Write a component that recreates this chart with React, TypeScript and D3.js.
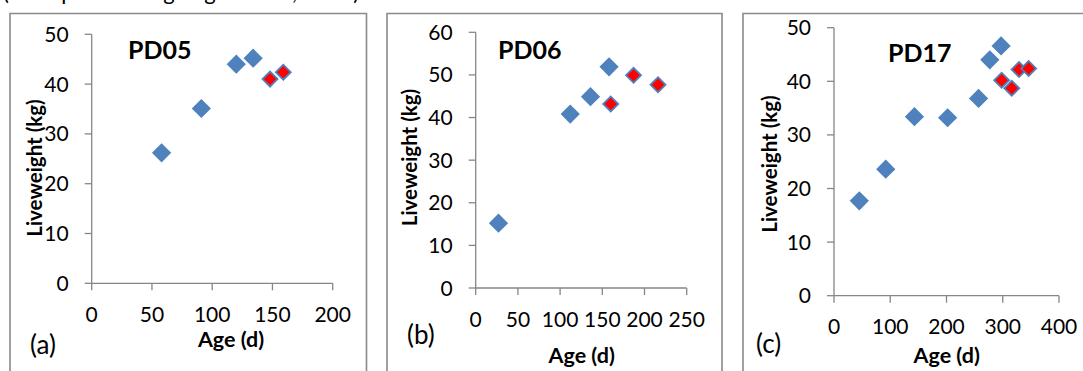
import React from "react";
import * as d3 from "d3";

// ---- data ----
const pd05AgeBlue = [58, 91, 120, 134];
const pd05WeightBlue = [26.2, 35.1, 44.0, 45.2];
const pd05AgeRed = [148, 159];
const pd05WeightRed = [41.0, 42.4];

const pd06AgeBlue = [27, 112, 136, 158];
const pd06WeightBlue = [15.2, 40.8, 44.9, 51.9];
const pd06AgeRed = [160, 187, 216];
const pd06WeightRed = [43.2, 49.9, 47.7];

const pd17AgeBlue = [45, 92, 143, 202, 257, 277, 297];
const pd17WeightBlue = [17.7, 23.6, 33.4, 33.2, 36.8, 44.0, 46.6];
const pd17AgeRed = [298, 316, 329, 346];
const pd17WeightRed = [40.2, 38.7, 42.2, 42.4];

const pd05XTicks = [0, 50, 100, 150, 200];
const pd05YTicks = [0, 10, 20, 30, 40, 50];
const pd06XTicks = [0, 50, 100, 150, 200, 250];
const pd06YTicks = [0, 10, 20, 30, 40, 50, 60];
const pd17XTicks = [0, 100, 200, 300, 400];
const pd17YTicks = [0, 10, 20, 30, 40, 50];

const panelNames = ["PD05", "PD06", "PD17"];
const panelLetters = ["(a)", "(b)", "(c)"];
const xTitle = "Age (d)";
const yTitle = "Liveweight (kg)";
const topText = "(Examples of weighing records, 2013)";

// ---- layout ----
const layouts = [
  { bx0: 10, bx1: 366.5, ax: 91.7, ay: 283.3, xEnd: 332.7, yTop: 34.3, nameX: 128, nameY: 59, ytX: 35, ytY: 168, xtX: 231, xtY: 347, letX: 30, letY: 354 },
  { bx0: 387, bx1: 722, ax: 475.7, ay: 288, xEnd: 686.7, yTop: 32.3, nameX: 498, nameY: 59, ytX: 410, ytY: 157.5, xtX: 581.7, xtY: 362.5, letX: 407, letY: 344 },
  { bx0: 743, bx1: 1090, ax: 834, ay: 295.7, xEnd: 1059, yTop: 27.7, nameX: 888, nameY: 61.5, ytX: 770, ytY: 164, xtX: 946.7, xtY: 362.5, letX: 756, letY: 352.5 },
];

const panels = [
  { xb: pd05AgeBlue, yb: pd05WeightBlue, xr: pd05AgeRed, yr: pd05WeightRed, xt: pd05XTicks, yt: pd05YTicks },
  { xb: pd06AgeBlue, yb: pd06WeightBlue, xr: pd06AgeRed, yr: pd06WeightRed, xt: pd06XTicks, yt: pd06YTicks },
  { xb: pd17AgeBlue, yb: pd17WeightBlue, xr: pd17AgeRed, yr: pd17WeightRed, xt: pd17XTicks, yt: pd17YTicks },
];

const FONT = "Lato, 'Open Sans', sans-serif";
const AXIS = "#868686";
const BLUE = "#4F81BD";
const RED = "#FF0000";

const blueSym = d3.symbol().type(d3.symbolSquare).size(185)();
const redSym = d3.symbol().type(d3.symbolSquare).size(112)();

function Panel({ i }: { i: number }) {
  const L = layouts[i];
  const P = panels[i];
  const x = d3.scaleLinear().domain([P.xt[0], P.xt[P.xt.length - 1]]).range([L.ax, L.xEnd]);
  const y = d3.scaleLinear().domain([P.yt[0], P.yt[P.yt.length - 1]]).range([L.ay, L.yTop]);
  return (
    <g>
      <path d={`M${L.bx0},380 V${13.5} H${L.bx1} V380`} fill="none" stroke="#8a8a8a" strokeWidth={1.6} />
      {/* y axis */}
      <line x1={L.ax} x2={L.ax} y1={y(P.yt[0])} y2={y(P.yt[P.yt.length - 1])} stroke={AXIS} strokeWidth={1.3} />
      {P.yt.map((t) => (
        <g key={"y" + t}>
          <line x1={L.ax - 7} x2={L.ax} y1={y(t)} y2={y(t)} stroke={AXIS} strokeWidth={1.3} />
          <text x={L.ax - 23} y={y(t)} dy="0.36em" textAnchor="end" fontSize={21} fontFamily={FONT} fill="#000">{t}</text>
        </g>
      ))}
      {/* x axis */}
      <line x1={x(P.xt[0])} x2={x(P.xt[P.xt.length - 1])} y1={L.ay} y2={L.ay} stroke={AXIS} strokeWidth={1.3} />
      {P.xt.map((t) => (
        <g key={"x" + t}>
          <line x1={x(t)} x2={x(t)} y1={L.ay} y2={L.ay + 7} stroke={AXIS} strokeWidth={1.3} />
          <text x={x(t)} y={L.ay + 38.5} textAnchor="middle" fontSize={21} fontFamily={FONT} fill="#000">{t}</text>
        </g>
      ))}
      <text x={L.nameX} y={L.nameY} fontSize={25} fontWeight="bold" fontFamily={FONT} fill="#000">{panelNames[i]}</text>
      <text transform={`translate(${L.ytX},${L.ytY}) rotate(-90)`} textAnchor="middle" dy="0.36em" fontSize={20.5} fontWeight="bold" fontFamily={FONT} fill="#000">{yTitle}</text>
      <text x={L.xtX} y={L.xtY} textAnchor="middle" fontSize={21.5} fontWeight="bold" fontFamily={FONT} fill="#000">{xTitle}</text>
      <text x={L.letX} y={L.letY} fontSize={26} fontFamily={FONT} fill="#000">{panelLetters[i]}</text>
      {P.xb.map((v, k) => (
        <path key={"b" + k} d={blueSym} transform={`translate(${x(v)},${y(P.yb[k])}) rotate(45)`} fill={BLUE} />
      ))}
      {P.xr.map((v, k) => (
        <path key={"r" + k} d={redSym} transform={`translate(${x(v)},${y(P.yr[k])}) rotate(45)`} fill={RED} stroke={BLUE} strokeWidth={1.8} />
      ))}
    </g>
  );
}

export default function App() {
  return (
    <div style={{ position: "fixed", left: 0, top: 0 }}>
      <svg width={1083} height={371} style={{ display: "block", background: "#fff" }}>
        <text x={3} y={0} fontSize={22} fontFamily={FONT} fill="#000" textLength={356}>{topText}</text>
        {[0, 1, 2].map((i) => (
          <Panel key={i} i={i} />
        ))}
      </svg>
    </div>
  );
}
